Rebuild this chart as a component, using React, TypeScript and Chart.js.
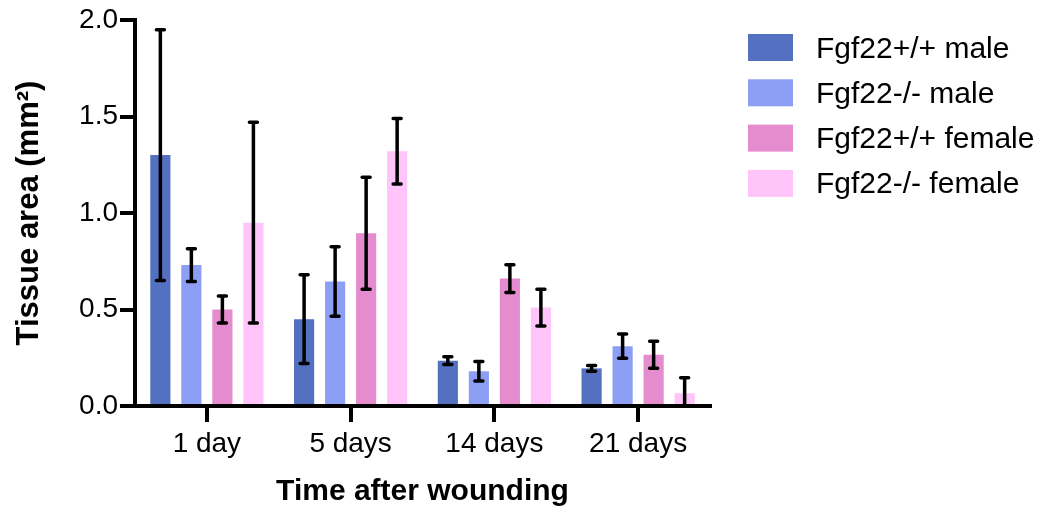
import React, { useEffect, useRef } from "react";
import { Chart, registerables } from "chart.js";

Chart.register(...registerables);

const categories = ["1 day", "5 days", "14 days", "21 days"];
const seriesLabels = ["Fgf22+/+ male", "Fgf22-/- male", "Fgf22+/+ female", "Fgf22-/- female"];
const seriesColors = ["#5470c0", "#8c9ff5", "#e48cce", "#ffc5fa"];

const wtMale = [1.30, 0.45, 0.235, 0.195];
const wtMaleErr = [0.65, 0.23, 0.02, 0.015];
const koMale = [0.73, 0.645, 0.18, 0.31];
const koMaleErr = [0.085, 0.18, 0.05, 0.063];
const wtFemale = [0.50, 0.895, 0.66, 0.265];
const wtFemaleErr = [0.07, 0.29, 0.072, 0.07];
const koFemale = [0.95, 1.32, 0.51, 0.066];
const koFemaleErr = [0.52, 0.17, 0.095, 0.08];

const yTicks = [0, 0.5, 1.0, 1.5, 2.0];

const seriesValues = [wtMale, koMale, wtFemale, koFemale];
const seriesErrors = [wtMaleErr, koMaleErr, wtFemaleErr, koFemaleErr];

const FONT = '"Liberation Sans", Arial, Helvetica, sans-serif';

const errorBarPlugin = {
  id: "errorBars",
  afterDatasetsDraw(chart: any) {
    const ctx = chart.ctx;
    const yScale = chart.scales.y;
    ctx.save();
    ctx.strokeStyle = "#000";
    ctx.lineWidth = 3.5;
    ctx.lineCap = "round";
    chart.data.datasets.forEach((ds: any, di: number) => {
      const meta = chart.getDatasetMeta(di);
      meta.data.forEach((bar: any, i: number) => {
        const v = ds.data[i];
        const e = ds.errors[i];
        const hi = v + e;
        const lo = v - e;
        const x = bar.x;
        const yHi = yScale.getPixelForValue(hi);
        const yLo = yScale.getPixelForValue(Math.max(0, lo));
        ctx.beginPath();
        ctx.moveTo(x, yHi);
        ctx.lineTo(x, yLo);
        ctx.moveTo(x - 4, yHi);
        ctx.lineTo(x + 4, yHi);
        if (lo > 0) {
          ctx.moveTo(x - 4, yLo);
          ctx.lineTo(x + 4, yLo);
        }
        ctx.stroke();
      });
    });
    ctx.restore();
  },
};

const legendPlugin = {
  id: "customLegend",
  afterDraw(chart: any) {
    const ctx = chart.ctx;
    ctx.save();
    ctx.font = `30px ${FONT}`;
    ctx.textAlign = "left";
    ctx.textBaseline = "alphabetic";
    chart.data.datasets.forEach((ds: any, i: number) => {
      const cy = 47.5 + i * 45.3;
      ctx.fillStyle = ds.backgroundColor;
      ctx.fillRect(748, cy - 13.5, 45, 27);
      ctx.fillStyle = "#000";
      ctx.fillText(ds.label, 816, cy + 10);
    });
    ctx.restore();
  },
};

export default function App() {
  const ref = useRef<HTMLCanvasElement | null>(null);

  useEffect(() => {
    if (!ref.current) return;
    const chart = new Chart(ref.current, {
      type: "bar",
      data: {
        labels: categories,
        datasets: seriesLabels.map((label, i) => ({
          label,
          data: seriesValues[i],
          errors: seriesErrors[i],
          backgroundColor: seriesColors[i],
          borderWidth: 0,
          categoryPercentage: 0.863,
          barPercentage: 0.65,
        })) as any,
      },
      options: {
        responsive: false,
        animation: false,
        devicePixelRatio: 1,
        layout: { padding: { top: 20, right: 343, bottom: 0, left: 0 } },
        plugins: {
          legend: { display: false },
          tooltip: { enabled: false },
        },
        scales: {
          x: {
            z: 1,
            afterFit: (scale: any) => {
              scale.height = 106;
            },
            grid: {
              display: true,
              offset: false,
              drawOnChartArea: false,
              drawTicks: true,
              tickLength: 16,
              lineWidth: 4,
              color: "#000",
            },
            border: { display: true, color: "#000", width: 4 },
            ticks: {
              color: "#000",
              font: { family: FONT, size: 28 },
              padding: 5,
              maxRotation: 0,
            },
            title: {
              display: true,
              text: "Time after wounding",
              color: "#000",
              font: { family: FONT, size: 30, weight: "bold" },
              padding: { top: 0, bottom: 2 },
            },
          },
          y: {
            z: 1,
            min: 0,
            max: 2,
            afterFit: (scale: any) => {
              scale.width = 135;
            },
            afterBuildTicks: (scale: any) => {
              scale.ticks = yTicks.map((v) => ({ value: v }));
            },
            grid: {
              display: true,
              drawOnChartArea: false,
              drawTicks: true,
              tickLength: 15,
              lineWidth: 4,
              color: "#000",
            },
            border: { display: true, color: "#000", width: 4 },
            ticks: {
              color: "#000",
              font: { family: FONT, size: 28 },
              padding: 2,
              callback: (v: any) => Number(v).toFixed(1),
            },
            title: {
              display: true,
              text: "Tissue area (mm²)",
              color: "#000",
              font: { family: FONT, size: 31, weight: "bold" },
              padding: { top: 11, bottom: 0 },
            },
          },
        },
      },
      plugins: [errorBarPlugin, legendPlugin],
    });
    return () => chart.destroy();
  }, []);

  return (
    <div style={{ position: "absolute", left: 0, top: 0, width: 1053, height: 512, background: "#fff" }}>
      <canvas ref={ref} width={1053} height={512} />
    </div>
  );
}
